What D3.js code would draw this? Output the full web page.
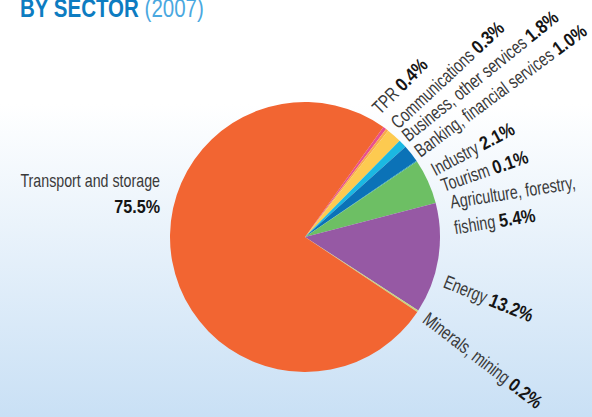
<!DOCTYPE html>
<html>
<head>
<meta charset="utf-8">
<script src="https://cdn.jsdelivr.net/npm/d3@7"></script>
<style>
  body { margin: 0; }
  svg { display: block; }
</style>
</head>
<body>
<div id="chart"></div>
<script>
// Data (share of total, %)
const sectors = ["TPR", "Communications", "Business, other services", "Banking, financial services",
  "Industry", "Tourism", "Agriculture, forestry, fishing", "Energy", "Minerals, mining", "Transport and storage"];
const shares = [0.4, 0.3, 1.8, 1.0, 2.1, 0.1, 5.4, 13.2, 0.2, 75.5];
const shareLabels = ["0.4%", "0.3%", "1.8%", "1.0%", "2.1%", "0.1%", "5.4%", "13.2%", "0.2%", "75.5%"];
const colors = ["#e8508e", "#f9a94a", "#fdca50", "#1bb8e2", "#0b72b7", "#1f9bb0", "#6dbf64", "#9659a4", "#c9d77c", "#f26532"];

// label placement around the pie: angle (deg from north), distance, rotation (deg)
const labelAngle = [31.6, 41, 47.6, 55.6, 65, 72, 79, 110, 126];
const labelDist  = [143, 142, 140, 140, 144, 146, 149, 146, 144];
const labelRot   = [-45, -43, -39, -36.5, -28, -19, -9, 22, 37.5];

const width = 592, height = 417;
const cx = 305, cy = 237, radius = 135;
const startDeg = 35.5;
const nameScale = 0.75, valueScale = 0.85; // condensed look

const labelFont = "'Liberation Sans', Arial, sans-serif";

const svg = d3.select("#chart")
  .append("svg")
    .attr("width", width)
    .attr("height", height);

// background gradient
const grad = svg.append("defs").append("linearGradient")
  .attr("id", "bg")
  .attr("x1", 0).attr("y1", 0).attr("x2", 0).attr("y2", 1);
grad.append("stop").attr("offset", "0%").attr("stop-color", "#ffffff");
grad.append("stop").attr("offset", "25%").attr("stop-color", "#ffffff");
grad.append("stop").attr("offset", "100%").attr("stop-color", "#c9e0f5");

svg.append("rect")
  .attr("width", width)
  .attr("height", height)
  .attr("fill", "url(#bg)");

// Title
const title = svg.append("text")
  .attr("transform", `translate(20,17) scale(0.82,1)`)
  .style("font-family", labelFont)
  .style("font-size", "25px");
title.append("tspan")
  .style("font-weight", "bold")
  .style("fill", "#0d7cc1")
  .text("BY SECTOR");
title.append("tspan")
  .style("fill", "#4aa8e0")
  .text(" (2007)");

// Pie
const data = sectors.map((s, i) => ({sector: s, value: shares[i], label: shareLabels[i], color: colors[i]}));

const pie = d3.pie()
  .sort(null)
  .value(d => d.value)
  .startAngle(startDeg * Math.PI / 180)
  .endAngle(startDeg * Math.PI / 180 + 2 * Math.PI);

const arc = d3.arc()
  .innerRadius(0)
  .outerRadius(radius);

const g = svg.append("g")
  .attr("transform", `translate(${cx},${cy})`);

g.selectAll("path")
  .data(pie(data))
  .join("path")
    .attr("d", arc)
    .attr("fill", d => d.data.color);

// helpers for condensed text pieces
function nameText(parent, x, y, txt, anchor) {
  const t = parent.append("text")
    .attr("transform", `translate(${x},${y}) scale(${nameScale},1)`)
    .attr("text-anchor", anchor || "start")
    .style("font-family", labelFont)
    .style("font-size", "19px")
    .style("fill", "#3a3a3a")
    .text(txt);
  return t.node().getComputedTextLength() * nameScale;
}
function valueText(parent, x, y, txt, anchor) {
  parent.append("text")
    .attr("transform", `translate(${x},${y}) scale(${valueScale},1)`)
    .attr("text-anchor", anchor || "start")
    .style("font-family", labelFont)
    .style("font-size", "19px")
    .style("font-weight", "bold")
    .style("fill", "#151515")
    .text(txt);
}

// Labels around the pie
data.slice(0, 9).forEach(function(d, i) {
  const p = d3.pointRadial(labelAngle[i] * Math.PI / 180, labelDist[i]);
  const lg = g.append("g")
    .attr("transform", `translate(${p[0]},${p[1]}) rotate(${labelRot[i]})`);

  if (d.sector === "Agriculture, forestry, fishing") {
    nameText(lg, 0, 0, "Agriculture, forestry,");
    const w = nameText(lg, 0, 26, "fishing");
    valueText(lg, w + 4, 26, d.label);
  } else {
    const w = nameText(lg, 0, 0, d.sector);
    valueText(lg, w + 4, 0, d.label);
  }
});

// Transport label on the left
const tr = data[9];
const tg = svg.append("g")
  .attr("transform", `translate(${cx - radius - 10},${cy - 50})`);
nameText(tg, 0, 0, tr.sector, "end");
valueText(tg, 0, 26, tr.label, "end");
</script>
</body>
</html>
